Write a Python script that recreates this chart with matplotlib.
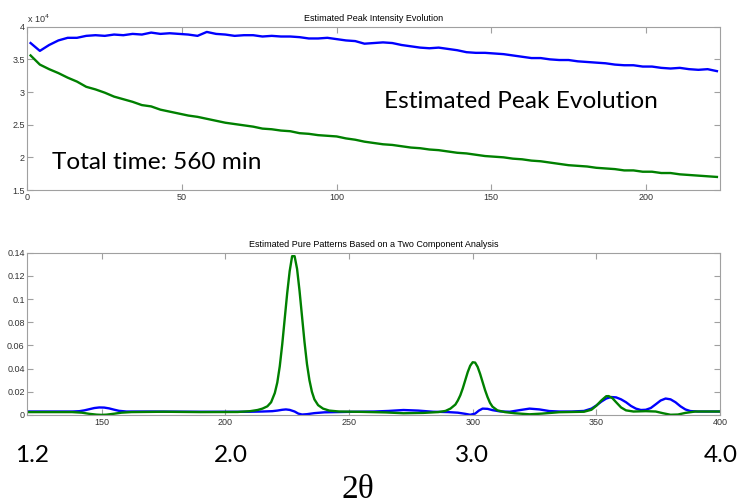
import numpy as np
import matplotlib.pyplot as plt

# peak intensity vs. scan number (units of 1e4)
scan = np.arange(1, 225, 3)
peak_a = [3.75, 3.63, 3.72, 3.79, 3.83, 3.83, 3.86, 3.87, 3.86, 3.88,
          3.87, 3.89, 3.88, 3.91, 3.89, 3.90, 3.89, 3.88, 3.86, 3.92,
          3.89, 3.88, 3.86, 3.87, 3.87, 3.85, 3.86, 3.85, 3.85, 3.84,
          3.82, 3.82, 3.83, 3.81, 3.79, 3.78, 3.74, 3.75, 3.76, 3.75,
          3.72, 3.70, 3.68, 3.67, 3.68, 3.66, 3.64, 3.61, 3.60, 3.60,
          3.59, 3.58, 3.56, 3.54, 3.52, 3.52, 3.50, 3.49, 3.49, 3.47,
          3.46, 3.45, 3.44, 3.42, 3.41, 3.41, 3.39, 3.39, 3.37, 3.36,
          3.37, 3.35, 3.34, 3.35, 3.32]
peak_b = [3.56, 3.42, 3.35, 3.29, 3.22, 3.16, 3.08, 3.04, 2.99, 2.93,
          2.89, 2.85, 2.80, 2.78, 2.73, 2.70, 2.67, 2.64, 2.62, 2.59,
          2.56, 2.53, 2.51, 2.49, 2.47, 2.44, 2.43, 2.41, 2.40, 2.37,
          2.36, 2.34, 2.33, 2.32, 2.29, 2.27, 2.24, 2.22, 2.20, 2.19,
          2.17, 2.15, 2.14, 2.12, 2.11, 2.09, 2.07, 2.06, 2.04, 2.02,
          2.01, 2.00, 1.98, 1.97, 1.95, 1.94, 1.92, 1.90, 1.88, 1.87,
          1.86, 1.84, 1.83, 1.82, 1.80, 1.80, 1.78, 1.78, 1.76, 1.76,
          1.74, 1.73, 1.72, 1.71, 1.70]

# pure component patterns
pat_a_x = [120, 130, 138, 141, 143, 145, 147, 149, 151, 153, 155, 157, 160,
           170, 180, 190, 200, 210, 215, 219, 221, 223, 224.5, 226, 228,
           229.5, 231, 233, 236, 240, 250, 260, 266, 272, 278, 284, 290,
           294, 297, 299, 301, 302.5, 304, 306, 308, 311, 315, 319, 323,
           327, 331, 335, 340, 345, 348, 350, 352, 354, 356, 358, 360, 362,
           364, 366, 368, 370, 372, 374, 376, 378, 380, 382, 384, 386, 388,
           391, 400]
pat_a_y = [0.003, 0.003, 0.003, 0.0033, 0.004, 0.005, 0.006, 0.0065, 0.0064,
           0.0057, 0.0046, 0.0036, 0.003, 0.003, 0.0029, 0.0028, 0.0028,
           0.0028, 0.003, 0.0033, 0.0038, 0.0045, 0.0048, 0.0044, 0.003,
           0.0012, 0.0004, 0.0007, 0.0016, 0.0023, 0.0027, 0.003, 0.0035,
           0.0043, 0.0038, 0.0028, 0.0025, 0.002, 0.001, 0.0002, 0.0012,
           0.0038, 0.0055, 0.0053, 0.0042, 0.0031, 0.0028, 0.0042, 0.0055,
           0.0048, 0.0034, 0.003, 0.003, 0.0035, 0.0055, 0.0082, 0.0115,
           0.0142, 0.0155, 0.0152, 0.0135, 0.011, 0.0078, 0.0055, 0.0043,
           0.0045, 0.006, 0.0092, 0.0125, 0.0142, 0.0135, 0.011, 0.0075,
           0.0048, 0.0034, 0.003, 0.003]
pat_b_x = [120, 138, 142, 145, 148, 150, 152, 155, 158, 162, 175, 190, 205,
           210, 213, 215, 217, 218.5, 220, 221, 222, 223, 224, 225, 226, 227,
           228, 229, 230, 231, 232, 233, 234, 235, 236, 237.5, 239.5, 242,
           246, 255, 265, 272, 280, 286, 289, 291, 293, 294, 295, 296, 297,
           298, 299, 300, 301, 302, 303, 304, 305, 306, 307, 308, 310, 313,
           317, 323, 328, 335, 345, 348, 350, 352, 354, 355, 356.5, 358, 360,
           362, 365, 370, 374, 377, 380, 383, 386, 390, 400]
pat_b_y = [0.0025, 0.0025, 0.002, 0.001, 0.0003, 0.0001, 0.0003, 0.0011,
           0.002, 0.0025, 0.0028, 0.0025, 0.0026, 0.0033, 0.0043, 0.0055,
           0.0075, 0.011, 0.019, 0.028, 0.042, 0.061, 0.083, 0.105, 0.124,
           0.137, 0.137, 0.126, 0.107, 0.085, 0.063, 0.044, 0.030, 0.020,
           0.0135, 0.0085, 0.0055, 0.0038, 0.003, 0.0027, 0.0022, 0.0015,
           0.0018, 0.0025, 0.0035, 0.0055, 0.009, 0.0125, 0.017, 0.023,
           0.030, 0.037, 0.0425, 0.0455, 0.0452, 0.0415, 0.0355, 0.0285,
           0.0215, 0.0155, 0.0105, 0.0072, 0.004, 0.0025, 0.0015, 0.0006,
           0.0012, 0.0024, 0.0028, 0.0045, 0.008, 0.0125, 0.0162, 0.0163,
           0.0145, 0.011, 0.0065, 0.004, 0.003, 0.0033, 0.003, 0.0015,
           0.0002, 0.0004, 0.0018, 0.003, 0.003]

angle_labels = ['1.2', '2.0', '3.0', '4.0']

BLUE = '#0000ff'
GREEN = '#008000'
EDGE = '#a0a0a0'
SMALL = 6.5

fig = plt.figure(figsize=(7.39, 5.04), dpi=100)
ax1 = fig.add_axes([0.0372, 0.623, 0.9371, 0.324])
ax2 = fig.add_axes([0.0372, 0.1766, 0.9371, 0.322])

for ax in (ax1, ax2):
    for s in ax.spines.values():
        s.set_color(EDGE)
        s.set_linewidth(0.8)
    ax.tick_params(direction='in', length=4, width=0.8, color=EDGE,
                   labelsize=SMALL, labelcolor='#333333', pad=2,
                   top=True, right=True)

ax1.plot(scan, peak_a, color=BLUE, lw=1.7)
ax1.plot(scan, peak_b, color=GREEN, lw=1.7)
ax1.set_xlim(0, 224)
ax1.set_ylim(1.5, 4)
ax1.set_xticks([0, 50, 100, 150, 200])
ax1.set_yticks([1.5, 2, 2.5, 3, 3.5, 4])
ax1.set_yticklabels(['1.5', '2', '2.5', '3', '3.5', '4'])
ax1.set_title('Estimated Peak Intensity Evolution', fontsize=SMALL,
              family='Liberation Sans', pad=4)
ax1.text(0.0, 1.01, r'x 10$^4$', transform=ax1.transAxes, fontsize=SMALL,
         family='Liberation Sans', color='#333333', va='bottom')
ax1.text(0.515, 0.54, 'Estimated Peak Evolution', transform=ax1.transAxes,
         fontsize=17.6, family='Lato', va='center')
ax1.text(0.035, 0.17, 'Total time: 560 min', transform=ax1.transAxes,
         fontsize=17.6, family='Lato', va='center')

ax2.plot(pat_a_x, pat_a_y, color=BLUE, lw=1.7)
ax2.plot(pat_b_x, pat_b_y, color=GREEN, lw=1.7)
ax2.set_xlim(120, 400)
ax2.set_ylim(0, 0.14)
ax2.set_xticks([150, 200, 250, 300, 350, 400])
ax2.set_yticks([0, 0.02, 0.04, 0.06, 0.08, 0.1, 0.12, 0.14])
ax2.set_yticklabels(['0', '0.02', '0.04', '0.06', '0.08', '0.1', '0.12', '0.14'])
ax2.set_title('Estimated Pure Patterns Based on a Two Component Analysis',
              fontsize=SMALL, family='Liberation Sans', pad=4)

for ax in (ax1, ax2):
    for lbl in ax.get_xticklabels() + ax.get_yticklabels():
        lbl.set_family('Liberation Sans')

# 2-theta scale written under the pattern axis
for xp, txt in zip([32, 231, 472, 721], angle_labels):
    fig.text(xp / 739, 1 - 456 / 504, txt, fontsize=17.6, family='Lato',
             ha='center', va='center')
fig.text(358 / 739, 1 - 490 / 504, '2θ', fontsize=24,
         family='Liberation Serif', ha='center', va='center')

fig.savefig('out.png', dpi=100)
